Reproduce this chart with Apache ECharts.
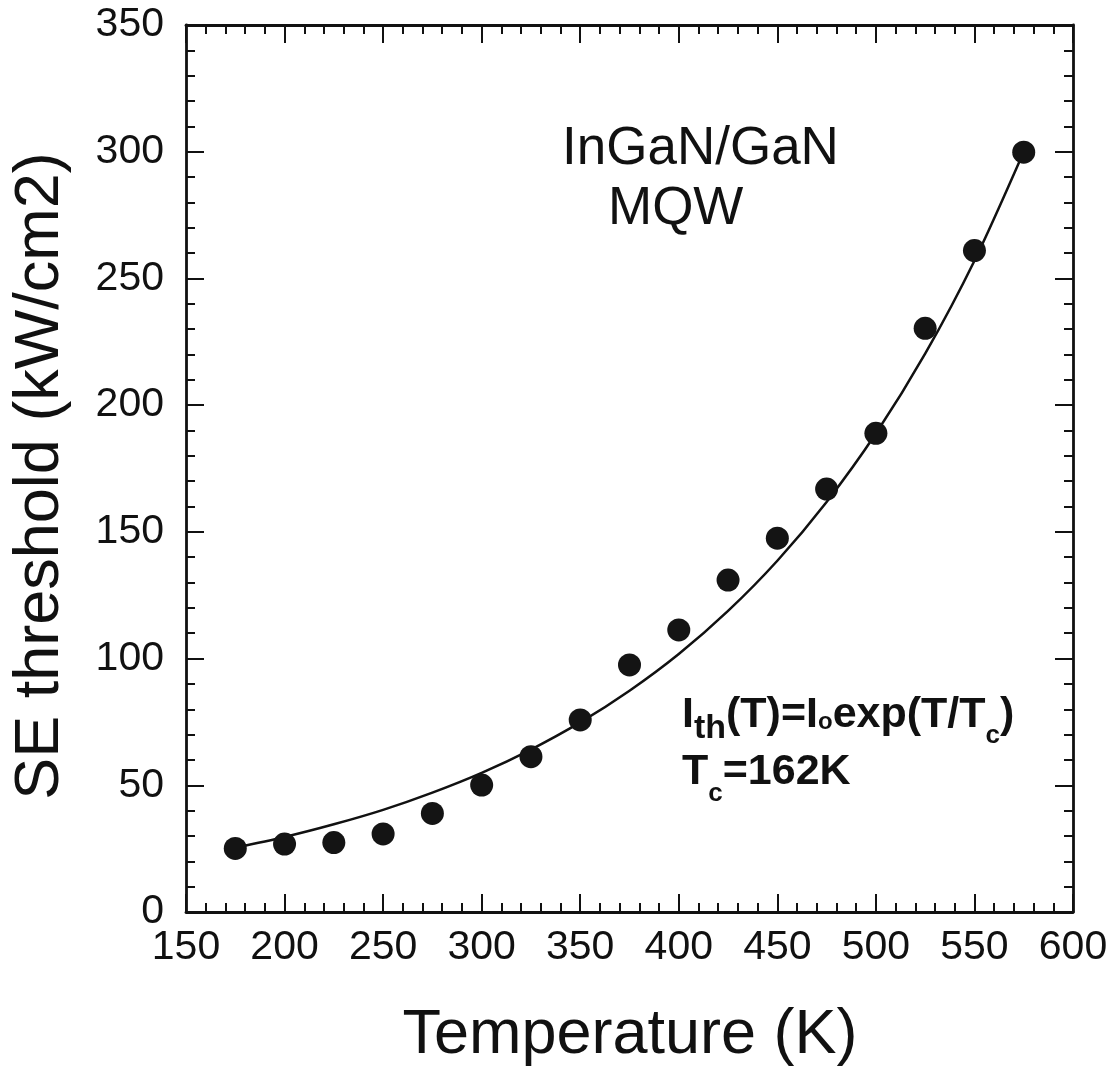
<!DOCTYPE html>
<html>
<head>
<meta charset="utf-8">
<script src="https://cdn.jsdelivr.net/npm/echarts@6/dist/echarts.min.js"></script>
<style>html,body{margin:0;padding:0;background:#fff}#c{width:1119px;height:1069px}</style>
</head>
<body>
<div id="c"></div>
<script>
// Measured points (temperature in K, threshold in kW/cm2)
const temperatures = [175, 200, 225, 250, 275, 300, 325, 350, 375, 400, 425, 450, 475, 500, 525, 550, 575];
const thresholds = [25.1, 26.8, 27.4, 30.8, 38.9, 50.1, 61.3, 75.8, 97.5, 111.3, 131.0, 147.5, 166.9, 188.9, 230.3, 261.0, 299.8];
// Fit curve values at the same temperatures
const fitTemperatures = [175, 200, 225, 250, 275, 300, 325, 350, 375, 400, 425, 450, 475, 500, 525, 550, 575];
const fitValues = [25.4, 29.6, 34.6, 40.3, 47.1, 54.9, 64.1, 74.8, 87.3, 101.8, 118.8, 138.6, 161.8, 188.8, 220.3, 257.0, 300.0];
const xTicks = [150, 200, 250, 300, 350, 400, 450, 500, 550, 600];
const yTicks = [0, 50, 100, 150, 200, 250, 300, 350];

const FONT = '"Liberation Sans", Arial, Helvetica, sans-serif';
const chart = echarts.init(document.getElementById('c'), null, {renderer: 'canvas'});

const ctx = document.createElement('canvas').getContext('2d');
function runs(pieces, x0, baseline) {
  const els = [];
  let x = x0;
  pieces.forEach(p => {
    const font = 'bold ' + p.size + 'px ' + FONT;
    ctx.font = font;
    const w = ctx.measureText(p.t).width;
    els.push({
      type: 'text', x: x, y: baseline + (p.dy || 0) - 0.3465 * p.size,
      style: {text: p.t, font: font, fill: '#111', align: 'left', verticalAlign: 'middle'}
    });
    x += w;
  });
  return els;
}

const axisLineStyle = {color: '#111', width: 2.8};
const tickStyle = {color: '#111', width: 2};
function xAx(pos, labels) {
  return {
    type: 'value', position: pos, min: 150, max: 600, interval: 50,
    axisLine: {show: true, onZero: false, lineStyle: axisLineStyle},
    axisTick: {show: true, inside: true, length: 18, lineStyle: tickStyle},
    minorTick: {show: true, splitNumber: 5, length: 9, lineStyle: tickStyle},
    splitLine: {show: false}, minorSplitLine: {show: false},
    axisLabel: {show: labels, fontSize: 41, color: '#111', fontFamily: FONT, margin: 15,
      formatter: v => xTicks.indexOf(v) >= 0 ? String(v) : ''}
  };
}
function yAx(pos, labels) {
  return {
    type: 'value', position: pos, min: 0, max: 350, interval: 50,
    axisLine: {show: true, onZero: false, lineStyle: axisLineStyle},
    axisTick: {show: true, inside: true, length: 18, lineStyle: tickStyle},
    minorTick: {show: true, splitNumber: 5, length: 9, lineStyle: tickStyle},
    splitLine: {show: false}, minorSplitLine: {show: false},
    axisLabel: {show: labels, fontSize: 41, color: '#111', fontFamily: FONT, margin: 22,
      formatter: v => yTicks.indexOf(v) >= 0 ? String(v) : ''}
  };
}

const annot = [].concat(
  runs([
    {t: 'I', size: 43},
    {t: 'th', size: 34, dy: 10},
    {t: '(T)=I', size: 43},
    {t: 'o', size: 24, dy: 1},
    {t: 'exp(T/T', size: 43},
    {t: 'c', size: 26, dy: 15},
    {t: ')', size: 43}
  ], 682, 730),
  runs([
    {t: 'T', size: 43},
    {t: 'c', size: 26, dy: 16},
    {t: '=162K', size: 43}
  ], 682, 787)
);

chart.setOption({
  animation: false,
  backgroundColor: '#fff',
  grid: {left: 186, right: 46, top: 25, bottom: 157, containLabel: false, outerBoundsMode: 'none'},
  xAxis: [xAx('bottom', true), xAx('top', false)],
  yAxis: [yAx('left', true), yAx('right', false)],
  series: [
    {
      type: 'line', xAxisIndex: 0, yAxisIndex: 0, smooth: 0.3, showSymbol: false, symbol: 'none',
      lineStyle: {color: '#111', width: 2.5}, z: 2,
      data: fitTemperatures.map((t, i) => [t, fitValues[i]])
    },
    {
      type: 'scatter', xAxisIndex: 0, yAxisIndex: 0, symbol: 'circle', symbolSize: 23,
      itemStyle: {color: '#141414', opacity: 1}, z: 3,
      data: temperatures.map((t, i) => [t, thresholds[i]])
    }
  ],
  graphic: [
    {type: 'text', x: 630, y: 1057 - 0.3465 * 63, style: {text: 'Temperature (K)', font: '63px ' + FONT, fill: '#111', align: 'center', verticalAlign: 'middle'}},
    {type: 'text', x: 40.5, y: 476, rotation: Math.PI / 2, style: {text: 'SE threshold (kW/cm2)', font: '63px ' + FONT, fill: '#111', align: 'center', verticalAlign: 'middle'}},
    {type: 'text', x: 562, y: 168 - 0.3465 * 53, style: {text: 'InGaN/GaN', font: '53px ' + FONT, fill: '#111', align: 'left', verticalAlign: 'middle'}},
    {type: 'text', x: 608, y: 228 - 0.3465 * 53, style: {text: 'MQW', font: '53px ' + FONT, fill: '#111', align: 'left', verticalAlign: 'middle'}}
  ].concat(annot)
});
</script>
</body>
</html>
